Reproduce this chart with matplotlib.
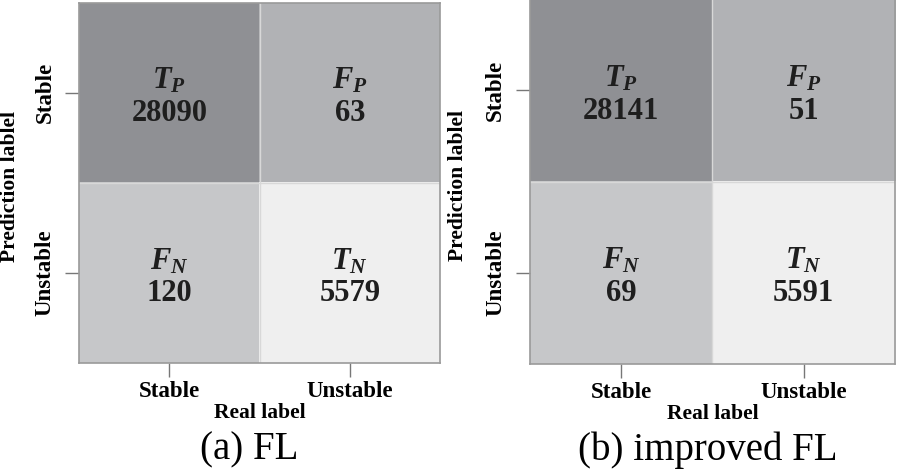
import matplotlib
matplotlib.use("Agg")
import matplotlib.pyplot as plt
import numpy as np
from matplotlib.colors import ListedColormap

plt.rcParams['font.family'] = ['Liberation Serif', 'DejaVu Serif']
plt.rcParams['mathtext.fontset'] = 'custom'
plt.rcParams['mathtext.rm'] = 'Liberation Serif:bold'
plt.rcParams['mathtext.it'] = 'Liberation Serif:italic:bold'
plt.rcParams['mathtext.bf'] = 'Liberation Serif:bold'

# data
class_labels = ['Stable', 'Unstable']
cell_names = [[r'$T_P$', r'$F_P$'], [r'$F_N$', r'$T_N$']]
counts_fl = [[28090, 63], [120, 5579]]
counts_improved = [[28141, 51], [69, 5591]]
captions = ['(a) FL', '(b) improved FL']

# shading of each cell (TP, FP, FN, TN) as in the figure
cell_shade = np.array([[0, 1], [2, 3]])
shade_colors = ListedColormap(['#8f9094', '#b1b2b5', '#c6c7c9', '#efefef'])

fig = plt.figure(figsize=(8.98, 4.69), dpi=100)
ax_a = fig.add_axes([0.088, 0.226, 0.402, 0.768])
ax_b = fig.add_axes([0.590, 0.224, 0.4065, 0.778])


def draw_matrix(ax, counts, caption, cap_x, ylab_x):
    ax.imshow(cell_shade, cmap=shade_colors, vmin=-0.5, vmax=3.5, aspect='auto')
    for i in range(2):
        for j in range(2):
            ax.text(j, i - 0.065, cell_names[i][j], ha='center', va='center',
                    fontsize=22, color='#1e1e1e')
            ax.text(j, i + 0.115, str(counts[i][j]), ha='center', va='center',
                    fontsize=22, fontweight='bold', color='#1e1e1e')
    ax.axhline(0.5, color='#d8d8d8', lw=1)
    ax.axvline(0.5, color='#d8d8d8', lw=1)
    ax.set_xticks([0, 1])
    ax.set_xticklabels(class_labels, fontsize=16.5, fontweight='bold')
    ax.set_yticks([0, 1])
    ax.set_yticklabels(class_labels, fontsize=16.5, fontweight='bold',
                       rotation=90, va='center')
    ax.tick_params(axis='both', length=10, width=1, color='#777777')
    ax.tick_params(axis='y', pad=7)
    ax.tick_params(axis='x', pad=3)
    for s in ax.spines.values():
        s.set_color('#9a9a9a')
        s.set_linewidth(1.2)
    ax.set_xlabel('Real label', fontsize=15.5, fontweight='bold')
    ax.xaxis.set_label_coords(0.5, -0.11)
    ax.xaxis.label.set_va('top')
    ax.set_ylabel('Prediction lablel', fontsize=15.5, fontweight='bold')
    ax.yaxis.set_label_coords(ylab_x, 0.49)
    ax.yaxis.label.set_va('center')
    fig.text(cap_x, 0.04, caption, ha='center', va='center', fontsize=28)


draw_matrix(ax_a, counts_fl, captions[0], 0.277, -0.19)
draw_matrix(ax_b, counts_improved, captions[1], 0.788, -0.198)

fig.savefig('out.png', dpi=100)
